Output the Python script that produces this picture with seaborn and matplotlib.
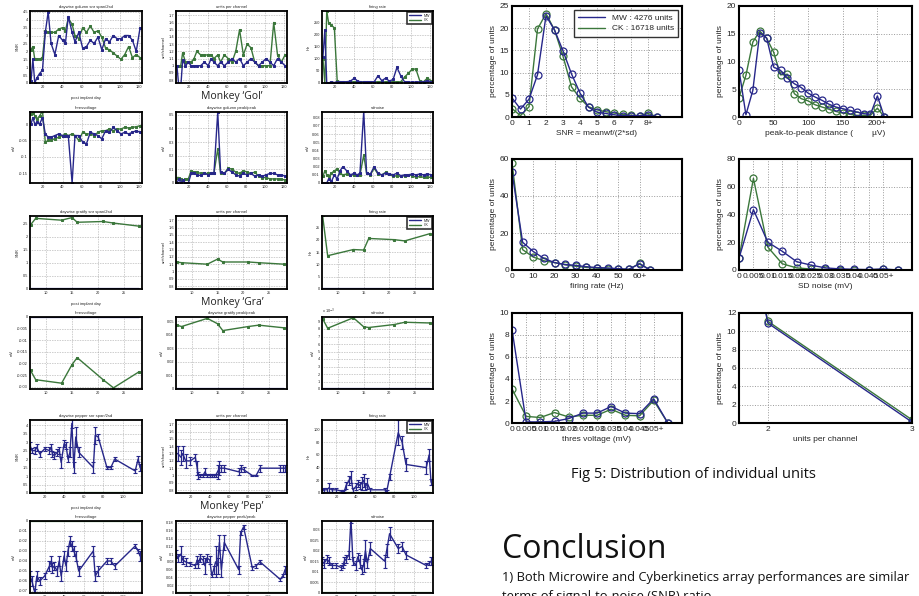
import numpy as np
import pandas as pd
import matplotlib
matplotlib.use("Agg")
import matplotlib.pyplot as plt
import seaborn as sns
from matplotlib.lines import Line2D
from matplotlib.ticker import FuncFormatter

# ---------------- data: distributions (right) ----------------
snr_x = [0, 0.5, 1, 1.5, 2, 2.5, 3, 3.5, 4, 4.5, 5, 5.5, 6, 6.5, 7, 7.5, 8, 8.5]
snr_mw = [4.3, 1.8, 4.0, 9.5, 22.8, 19.6, 14.9, 9.7, 5.4, 2.2, 1.1, 0.8, 0.5, 0.3, 0.3, 0.3, 0.4, 0.1]
snr_ck = [1.9, 0.3, 2.3, 19.8, 23.3, 19.6, 13.7, 6.8, 4.2, 2.3, 1.6, 1.2, 0.9, 0.6, 0.4, 0.3, 0.8, 0.1]
snr_ticks = ["0", "1", "2", "3", "4", "5", "6", "7", "8+"]

p2p_x = [0, 10, 20, 30, 40, 50, 60, 70, 80, 90, 100, 110, 120, 130, 140, 150, 160, 170, 180, 190, 200, 210]
p2p_mw = [8.5, 0.4, 4.8, 15.2, 14.2, 9.0, 8.4, 7.0, 6.0, 5.3, 4.3, 3.6, 3.0, 2.3, 1.8, 1.5, 1.2, 0.9, 0.6, 0.5, 3.8, 0.0]
p2p_ck = [3.5, 7.5, 13.5, 15.5, 14.2, 11.7, 7.6, 7.7, 4.2, 3.3, 2.9, 2.2, 1.8, 1.4, 1.0, 0.7, 0.5, 0.3, 0.3, 0.3, 1.6, 0.0]
p2p_ticks = ["0", "50", "100", "150", "200+"]

fr_x = [0, 5, 10, 15, 20, 25, 30, 35, 40, 45, 50, 55, 60, 65]
fr_mw = [53, 15, 10, 6.3, 4, 3, 2.5, 1.8, 1.3, 1.1, 0.7, 0.4, 3.3, 0]
fr_ck = [58, 11, 7, 5, 4, 2.8, 2, 1.4, 1, 0.7, 0.5, 0.3, 3.6, 0]
fr_ticks = ["0", "10", "20", "30", "40", "50", "60+"]

sd_x = [0, 0.005, 0.01, 0.015, 0.02, 0.025, 0.03, 0.035, 0.04, 0.045, 0.05, 0.055]
sd_mw = [8.5, 43.5, 20, 13.5, 6, 3.5, 1.5, 0.8, 0.5, 0.3, 0.8, 0]
sd_ck = [8.5, 66, 16.5, 4.5, 1.5, 0.7, 0.4, 0.3, 0.2, 0.2, 0.4, 0]
mv_ticks = ["0", "0.005", "0.01", "0.015", "0.02", "0.025", "0.03", "0.035", "0.04", "0.045", "0.05+"]

th_x = [0, 0.005, 0.01, 0.015, 0.02, 0.025, 0.03, 0.035, 0.04, 0.045, 0.05, 0.055]
th_mw = [8.5, 0.1, 0.1, 0.15, 0.4, 0.9, 0.9, 1.5, 0.9, 0.85, 2.2, 0]
th_ck = [3.1, 0.6, 0.5, 0.95, 0.55, 0.7, 0.7, 1.25, 0.7, 0.65, 2.05, 0]

upc_x = [1, 2, 3]
upc_mw = [89.0, 10.9, 0.1]
upc_ck = [88.5, 11.1, 0.35]

legend_labels = ["MW : 4276 units", "CK : 16718 units"]

# ---------------- data: monkey 'Gol' ----------------
gol_days = [7, 9, 11, 13, 16, 19, 22, 25, 28, 32, 36, 40, 43, 46, 50, 53, 57, 61, 65, 69, 73, 77, 81, 85, 89, 93, 97, 101, 105, 109, 113, 117, 121]
gol_snr_mw = [0.1, 1.5, 0.0, 0.3, 0.6, 0.8, 3.2, 4.5, 2.5, 1.8, 3.0, 2.7, 2.5, 4.2, 3.2, 2.6, 3.2, 2.2, 2.3, 2.7, 2.5, 2.9, 2.1, 2.8, 2.6, 3.0, 2.8, 2.8, 3.0, 3.0, 2.7, 2.0, 3.5]
gol_snr_ck = [2.1, 2.3, 1.5, 1.5, 1.5, 1.6, 3.3, 3.2, 3.2, 3.2, 3.4, 3.5, 3.3, 4.1, 3.7, 3.0, 2.8, 3.5, 3.2, 3.6, 3.2, 3.3, 2.9, 2.2, 2.1, 1.9, 1.7, 1.5, 1.8, 2.3, 1.6, 1.8, 1.6]
gol_upc_mw = [1.0, 0.7, 0.7, 1.08, 1.0, 1.05, 1.0, 1.0, 1.0, 1.0, 1.05, 1.0, 1.1, 1.05, 1.0, 1.05, 1.0, 1.05, 1.1, 1.05, 1.1, 1.0, 1.05, 1.1, 1.05, 1.0, 1.05, 1.1, 1.05, 1.0, 1.1, 1.05, 1.0]
gol_upc_ck = [1.0, 1.0, 1.0, 1.18, 1.05, 1.05, 1.05, 1.1, 1.2, 1.15, 1.15, 1.15, 1.15, 1.1, 1.15, 1.05, 1.15, 1.1, 1.05, 1.2, 1.5, 1.15, 1.3, 1.25, 1.05, 1.0, 1.0, 1.0, 1.0, 1.6, 1.15, 1.05, 1.15]
gol_fr_mw = [110, 220, 0, 0, 5, 2, 5, 3, 5, 5, 8, 20, 10, 5, 3, 5, 5, 5, 30, 10, 20, 8, 15, 65, 30, 5, 5, 3, 5, 5, 5, 10, 5]
gol_fr_ck = [100, 0, 300, 250, 240, 230, 10, 5, 5, 5, 5, 5, 5, 5, 5, 5, 5, 5, 5, 5, 5, 5, 5, 5, 5, 25, 40, 58, 58, 10, 5, 20, 10]
gol_th_mw = [0.0, 0.02, 0.0, 0.005, 0.0, 0.02, -0.03, -0.04, -0.04, -0.035, -0.03, -0.035, -0.035, -0.035, -0.18, -0.035, -0.035, -0.055, -0.06, -0.025, -0.03, -0.035, -0.045, -0.02, -0.025, -0.01, -0.02, -0.03, -0.025, -0.03, -0.025, -0.02, -0.025]
gol_th_ck = [0.03, 0.035, 0.025, 0.015, 0.025, 0.04, -0.055, -0.05, -0.048, -0.045, -0.04, -0.035, -0.03, -0.035, -0.03, -0.035, -0.05, -0.025, -0.03, -0.03, -0.035, -0.025, -0.02, -0.02, -0.015, -0.02, -0.015, -0.015, -0.01, -0.012, -0.01, -0.008, -0.005]
gol_pp_mw = [0.0, 0.03, 0.0, 0.02, 0.0, 0.0, 0.07, 0.07, 0.06, 0.055, 0.07, 0.06, 0.07, 0.07, 0.52, 0.08, 0.07, 0.1, 0.08, 0.06, 0.05, 0.07, 0.06, 0.07, 0.05, 0.06, 0.05, 0.06, 0.07, 0.07, 0.06, 0.06, 0.05]
gol_pp_ck = [0.04, 0.04, 0.03, 0.02, 0.03, 0.03, 0.09, 0.08, 0.08, 0.07, 0.07, 0.07, 0.07, 0.07, 0.25, 0.07, 0.07, 0.11, 0.1, 0.08, 0.07, 0.09, 0.08, 0.07, 0.08, 0.05, 0.04, 0.04, 0.03, 0.03, 0.03, 0.03, 0.02]
gol_sd_mw = [0.0, 0.0, 0.0, 0.005, 0.002, 0.01, 0.005, 0.015, 0.02, 0.015, 0.01, 0.012, 0.01, 0.012, 0.088, 0.012, 0.011, 0.02, 0.012, 0.01, 0.012, 0.011, 0.01, 0.012, 0.009, 0.01, 0.01, 0.011, 0.01, 0.011, 0.01, 0.011, 0.01]
gol_sd_ck = [0.008, 0.015, 0.01, 0.008, 0.012, 0.015, 0.017, 0.012, 0.01, 0.011, 0.01, 0.01, 0.01, 0.01, 0.034, 0.012, 0.01, 0.018, 0.011, 0.01, 0.013, 0.011, 0.008, 0.009, 0.008, 0.009, 0.01, 0.009, 0.007, 0.008, 0.007, 0.007, 0.007]

# ---------------- data: monkey 'Gra' (CK only; MW flat at zero) ----------------
gra_days = [7, 8, 13, 15, 16, 21, 23, 28]
gra_snr_ck = [2.45, 2.7, 2.63, 2.73, 2.55, 2.58, 2.52, 2.4]
gra_upc_ck = [1.13, 1.12, 1.1, 1.17, 1.13, 1.13, 1.12, 1.1]
gra_fr_ck = [30, 13.5, 16, 15.8, 20.5, 20, 19.5, 22.5]
gra_th_ck = [-0.023, -0.027, -0.0285, -0.0205, -0.0175, -0.027, -0.0305, -0.0235]
gra_pp_ck = [0.047, 0.046, 0.052, 0.048, 0.043, 0.046, 0.047, 0.045]
gra_sd_ck = [0.0094, 0.0081, 0.0095, 0.0083, 0.0082, 0.0086, 0.0089, 0.0088]
gra_mw_days = [7, 28]
gra_mw_zero = [0.0, 0.0]

# ---------------- data: monkey 'Pep' (MW only; CK flat at zero) ----------------
pep_days = [5, 7, 10, 12, 15, 20, 25, 27, 28, 30, 33, 35, 37, 40, 42, 44, 46, 48, 50, 52, 55, 70, 72, 75, 84, 88, 92, 113, 116, 118]
pep_snr = [2.8, 2.5, 2.5, 2.7, 2.3, 2.6, 2.5, 2.7, 2.3, 2.2, 2.4, 2.5, 1.8, 2.9, 2.8, 2.0, 2.4, 4.1, 1.5, 3.3, 2.4, 1.5, 3.4, 3.3, 1.5, 1.5, 2.0, 1.3, 2.0, 1.5]
pep_snr_err = [0.2, 0.15, 0.2, 0.2, 0.2, 0.1, 0.2, 0.2, 0.2, 0.2, 0.2, 0.2, 0.3, 0.2, 0.2, 0.2, 0.3, 0.3, 0.3, 0.6, 0.3, 0.3, 0.5, 0.2, 0.1, 0.1, 0.1, 0.1, 0.2, 0.2]
pep_upc = [1.3, 1.3, 1.25, 1.3, 1.2, 1.2, 1.25, 1.1, 1.0, 1.0, 1.0, 1.05, 1.0, 1.0, 1.0, 1.0, 1.0, 1.05, 1.1, 1.1, 1.1, 1.05, 1.1, 1.08, 1.0, 1.0, 1.1, 1.1, 1.1, 1.1]
pep_upc_err = [0.1, 0.1, 0.1, 0.1, 0.1, 0.05, 0.05, 0.1, 0.05, 0.02, 0.02, 0.05, 0.02, 0.02, 0.02, 0.02, 0.02, 0.1, 0.1, 0.05, 0.05, 0.05, 0.05, 0.03, 0.01, 0.01, 0.05, 0.05, 0.05, 0.05]
pep_fr = [3, 5, 5, 8, 5, 5, 3, 2, 2, 12, 20, 25, 5, 10, 15, 12, 15, 20, 10, 15, 5, 5, 2, 25, 95, 80, 45, 40, 60, 17]
pep_fr_err = [3, 3, 3, 7, 3, 3, 2, 2, 2, 5, 7, 10, 3, 5, 5, 5, 10, 10, 5, 8, 3, 3, 2, 5, 20, 10, 10, 10, 10, 5]
pep_th = [-0.055, -0.06, -0.072, -0.055, -0.06, -0.055, -0.045, -0.04, -0.047, -0.045, -0.05, -0.04, -0.055, -0.035, -0.045, -0.03, -0.02, -0.025, -0.03, -0.035, -0.05, -0.03, -0.055, -0.05, -0.04, -0.04, -0.045, -0.025, -0.03, -0.035]
pep_th_err = [0.005, 0.005, 0.004, 0.005, 0.004, 0.003, 0.005, 0.005, 0.005, 0.004, 0.005, 0.005, 0.005, 0.005, 0.005, 0.005, 0.005, 0.005, 0.005, 0.005, 0.005, 0.005, 0.005, 0.005, 0.003, 0.003, 0.003, 0.002, 0.002, 0.005]
pep_pp = [0.1, 0.09, 0.1, 0.085, 0.08, 0.075, 0.07, 0.085, 0.075, 0.09, 0.085, 0.07, 0.09, 0.085, 0.045, 0.06, 0.08, 0.07, 0.13, 0.06, 0.13, 0.06, 0.155, 0.17, 0.065, 0.07, 0.08, 0.035, 0.045, 0.06]
pep_pp_err = [0.01, 0.01, 0.02, 0.01, 0.01, 0.005, 0.005, 0.01, 0.01, 0.01, 0.01, 0.02, 0.01, 0.01, 0.005, 0.01, 0.04, 0.02, 0.02, 0.02, 0.02, 0.01, 0.005, 0.005, 0.005, 0.005, 0.005, 0.003, 0.005, 0.01]
pep_sd = [0.015, 0.014, 0.016, 0.015, 0.013, 0.013, 0.012, 0.013, 0.015, 0.016, 0.018, 0.035, 0.015, 0.013, 0.017, 0.015, 0.011, 0.013, 0.02, 0.014, 0.021, 0.015, 0.02, 0.028, 0.021, 0.022, 0.018, 0.013, 0.014, 0.015]
pep_sd_err = [0.002, 0.002, 0.002, 0.002, 0.001, 0.001, 0.001, 0.001, 0.002, 0.002, 0.002, 0.002, 0.002, 0.002, 0.002, 0.003, 0.002, 0.003, 0.005, 0.002, 0.003, 0.003, 0.003, 0.003, 0.002, 0.002, 0.002, 0.001, 0.001, 0.002]
pep_ck_days = [5, 118]
pep_ck_zero = [0.0, 0.0]

# ---------------- style ----------------
sns.set_style("white")
plt.rcParams["font.family"] = ["Liberation Sans", "DejaVu Sans"]
BLUE = "#27278a"
GREEN = "#3b773b"
W, H = 920, 596

fig = plt.figure(figsize=(W / 100, H / 100), dpi=100)


def add_ax(x0, x1, y0, y1):
    return fig.add_axes([x0 / W, 1 - y1 / H, (x1 - x0) / W, (y1 - y0) / H])


num_fmt = FuncFormatter(lambda v, p: f"{round(v, 6) + 0.0:g}")


def style_small(ax, xlim, ylim, yticks, title, ylabel):
    ax.set_xlim(*xlim)
    ax.set_ylim(*ylim)
    ax.set_yticks(yticks)
    ax.tick_params(axis="both", labelsize=2.8, direction="in", length=1.5, width=0.4, pad=1.5)
    ax.grid(True, linestyle=":", color="#888888", linewidth=0.45)
    for s in ax.spines.values():
        s.set_linewidth(1.3)
        s.set_color("black")
    ax.set_title(title, fontsize=3, pad=2)
    ax.set_ylabel(ylabel, fontsize=3, labelpad=2)
    ax.set_xlabel("")


def line(ax, x, y, color, marker="s", ms=1.6, lw=1.0):
    sns.lineplot(x=x, y=y, ax=ax, color=color, marker=marker, markersize=ms,
                 markeredgecolor=color, linewidth=lw, sort=False, legend=False)


def small_legend(ax):
    h = [Line2D([0], [0], color=BLUE, lw=1), Line2D([0], [0], color=GREEN, lw=1)]
    lg = ax.legend(h, ["MW", "CK"], loc="upper right", fontsize=2.6, frameon=True,
                   handlelength=3.5, borderpad=0.4, labelspacing=0.2, borderaxespad=0.3)
    lg.get_frame().set_edgecolor("black")
    lg.get_frame().set_linewidth(1.2)
    lg.get_frame().set_boxstyle("square", pad=0)


cols = [(30, 142), (176, 287), (322, 433)]

# ---- Gol ----
r1, r2 = (11, 83), (112, 183)
gx = (6, 123)
gxt = [20, 40, 60, 80, 100, 120]
panels = [
    (cols[0], r1, gol_snr_mw, gol_snr_ck, (0, 4.55), [0, 0.5, 1, 1.5, 2, 2.5, 3, 3.5, 4, 4.5], "daywise golumn snr span/2sd", "SNR"),
    (cols[1], r1, gol_upc_mw, gol_upc_ck, (0.76, 1.76), [0.8, 0.9, 1.0, 1.1, 1.2, 1.3, 1.4, 1.5, 1.6, 1.7], "units per channel", "unit/channel"),
    (cols[2], r1, gol_fr_mw, gol_fr_ck, (0, 300), [0, 50, 100, 150, 200, 250], "firing rate", "Hz"),
    (cols[0], r2, gol_th_mw, gol_th_ck, (-0.18, 0.037), [-0.15, -0.1, -0.05, 0], "thresvoltage", "mV"),
    (cols[1], r2, gol_pp_mw, gol_pp_ck, (0, 0.52), [0, 0.1, 0.2, 0.3, 0.4, 0.5], "daywise golumn peak/peak", "mV"),
    (cols[2], r2, gol_sd_mw, gol_sd_ck, (0, 0.087), [0, 0.01, 0.02, 0.03, 0.04, 0.05, 0.06, 0.07, 0.08], "sdnoise", "mV"),
]
for i, (c, r, mw, ck, yl, yt, t, yl_lab) in enumerate(panels):
    ax = add_ax(c[0], c[1], r[0], r[1])
    line(ax, gol_days, ck, GREEN)
    line(ax, gol_days, mw, BLUE)
    style_small(ax, gx, yl, yt, t, yl_lab)
    ax.set_xticks(gxt)
    ax.yaxis.set_major_formatter(num_fmt)
    if i == 2:
        small_legend(ax)
    if i == 0:
        ax.set_xlabel("post implant day", fontsize=3, labelpad=5)

# ---- Gra ----
r1, r2 = (216, 289), (317, 389)
grx = (6.9, 28.5)
grxt = [10, 15, 20, 25]
panels = [
    (cols[0], r1, gra_snr_ck, (0, 2.79), [0, 0.5, 1, 1.5, 2, 2.5], "daywise gratify snr span/2sd", "SNR"),
    (cols[1], r1, gra_upc_ck, (0.76, 1.76), [0.8, 0.9, 1.0, 1.1, 1.2, 1.3, 1.4, 1.5, 1.6, 1.7], "units per channel", "unit/channel"),
    (cols[2], r1, gra_fr_ck, (0, 29.6), [0, 5, 10, 15, 20, 25], "firing rate", "Hz"),
    (cols[0], r2, gra_th_ck, (-0.031, 0), [-0.03, -0.025, -0.02, -0.015, -0.01, -0.005, 0], "thresvoltage", "mV"),
    (cols[1], r2, gra_pp_ck, (0, 0.053), [0, 0.01, 0.02, 0.03, 0.04, 0.05], "daywise gratify peak/peak", "mV"),
    (cols[2], r2, gra_sd_ck, (0, 0.0096), [0, 0.001, 0.002, 0.003, 0.004, 0.005, 0.006, 0.007, 0.008, 0.009], "sdnoise", "mV"),
]
for i, (c, r, ck, yl, yt, t, yl_lab) in enumerate(panels):
    ax = add_ax(c[0], c[1], r[0], r[1])
    line(ax, gra_mw_days, gra_mw_zero, BLUE, marker=None, lw=1.6)
    line(ax, gra_days, ck, GREEN)
    style_small(ax, grx, yl, yt, t, yl_lab)
    ax.set_xticks(grxt)
    if i == 5:
        ax.yaxis.set_major_formatter(FuncFormatter(lambda v, p: f"{v * 1000:.0f}"))
        ax.text(0.0, 1.02, "x 10$^{-3}$", transform=ax.transAxes, fontsize=2.8, va="bottom")
    else:
        ax.yaxis.set_major_formatter(num_fmt)
    if i == 2:
        small_legend(ax)
    if i == 0:
        ax.set_xlabel("post implant day", fontsize=3, labelpad=5)

# ---- Pep ----
r1, r2 = (420, 493), (521, 593)
px = (5, 120)
pxt = [20, 40, 60, 80, 100]
panels = [
    (cols[0], r1, pep_snr, pep_snr_err, (0, 4.3), [0, 0.5, 1, 1.5, 2, 2.5, 3, 3.5, 4], "daywise pepper snr span/2sd", "SNR"),
    (cols[1], r1, pep_upc, pep_upc_err, (0.76, 1.76), [0.8, 0.9, 1.0, 1.1, 1.2, 1.3, 1.4, 1.5, 1.6, 1.7], "units per channel", "unit/channel"),
    (cols[2], r1, pep_fr, pep_fr_err, (0, 115), [0, 20, 40, 60, 80, 100], "firing rate", "Hz"),
    (cols[0], r2, pep_th, pep_th_err, (-0.072, 0), [-0.07, -0.06, -0.05, -0.04, -0.03, -0.02, -0.01, 0], "thresvoltage", "mV"),
    (cols[1], r2, pep_pp, pep_pp_err, (0, 0.185), [0, 0.02, 0.04, 0.06, 0.08, 0.1, 0.12, 0.14, 0.16, 0.18], "daywise pepper peak/peak", "mV"),
    (cols[2], r2, pep_sd, pep_sd_err, (0, 0.034), [0, 0.005, 0.01, 0.015, 0.02, 0.025, 0.03], "sdnoise", "mV"),
]
for i, (c, r, mw, err, yl, yt, t, yl_lab) in enumerate(panels):
    ax = add_ax(c[0], c[1], r[0], r[1])
    line(ax, pep_ck_days, pep_ck_zero, GREEN, marker=None, lw=1.6)
    ax.errorbar(pep_days, mw, yerr=err, fmt="none", ecolor=BLUE, elinewidth=0.9, capsize=1.3, capthick=0.8)
    line(ax, pep_days, mw, BLUE, marker=None, lw=1.0)
    style_small(ax, px, yl, yt, t, yl_lab)
    ax.set_xticks(pxt)
    ax.yaxis.set_major_formatter(num_fmt)
    if i == 2:
        small_legend(ax)
    if i == 0:
        ax.set_xlabel("post implant day", fontsize=3, labelpad=5)

# monkey titles
for name, y in [("Gol", 96), ("Gra", 302), ("Pep", 506)]:
    fig.text(232 / W, 1 - y / H, f"Monkey \u2018{name}\u2019", ha="center", va="center",
             fontsize=7.5, family=["Open Sans", "DejaVu Sans"], color="#222222")

# ---------------- right: distributions ----------------
rc = [(512, 682), (739, 912)]
rr = [(6, 117), (159, 270), (313, 423)]


def style_big(ax, xlim, ylim, xticks, xticklabels, yticks, xlabel):
    ax.set_xlim(*xlim)
    ax.set_ylim(*ylim)
    ax.set_xticks(xticks)
    ax.set_xticklabels(xticklabels)
    ax.set_yticks(yticks)
    ax.yaxis.set_major_formatter(num_fmt)
    ax.tick_params(axis="both", labelsize=6, direction="in", length=2.5, width=0.6, pad=2)
    ax.grid(True, linestyle=":", color="#999999", linewidth=0.7)
    for s in ax.spines.values():
        s.set_linewidth(1.5)
        s.set_color("black")
    ax.set_xlabel(xlabel, fontsize=6, labelpad=2)
    ax.set_ylabel("percentage of units", fontsize=6, labelpad=2)


def dist_line(ax, x, y, color):
    sns.lineplot(x=x, y=y, ax=ax, color=color, marker="o", markersize=5,
                 markerfacecolor="none", markeredgecolor=color, markeredgewidth=0.9,
                 linewidth=1.0, sort=False, legend=False)


mv_tick_pos = [0, 0.005, 0.01, 0.015, 0.02, 0.025, 0.03, 0.035, 0.04, 0.045, 0.05]
big = [
    (rc[0], rr[0], snr_x, snr_mw, snr_ck, (0, 10), (0, 25), list(range(0, 9)), snr_ticks, [0, 5, 10, 15, 20, 25], "SNR = meanwf/(2*sd)"),
    (rc[1], rr[0], p2p_x, p2p_mw, p2p_ck, (0, 250), (0, 20), [0, 50, 100, 150, 200], p2p_ticks, [0, 5, 10, 15, 20], "peak-to-peak distance (        \u00b5V)"),
    (rc[0], rr[1], fr_x, fr_mw, fr_ck, (0, 80), (0, 60), [0, 10, 20, 30, 40, 50, 60], fr_ticks, [0, 20, 40, 60], "firing rate (Hz)"),
    (rc[1], rr[1], sd_x, sd_mw, sd_ck, (0, 0.06), (0, 80), mv_tick_pos, mv_ticks, [0, 20, 40, 60, 80], "SD noise (mV)"),
    (rc[0], rr[2], th_x, th_mw, th_ck, (0, 0.06), (0, 10), mv_tick_pos, mv_ticks, [0, 2, 4, 6, 8, 10], "thres voltage (mV)"),
    (rc[1], rr[2], upc_x, upc_mw, upc_ck, (1.8, 3.0), (0, 12), [2, 3], ["2", "3"], [0, 2, 4, 6, 8, 10, 12], "units per channel"),
]
for i, (c, r, x, mw, ck, xl, yl, xt, xtl, yt, xlab) in enumerate(big):
    ax = add_ax(c[0], c[1], r[0], r[1])
    dist_line(ax, x, ck, GREEN)
    dist_line(ax, x, mw, BLUE)
    style_big(ax, xl, yl, xt, xtl, yt, xlab)
    if i == 0:
        h = [Line2D([0], [0], color=BLUE, lw=1), Line2D([0], [0], color=GREEN, lw=1)]
        lg = ax.legend(h, legend_labels, loc="upper right", fontsize=6, frameon=True,
                       handlelength=3.2, borderpad=0.5, labelspacing=0.3, borderaxespad=0.5)
        lg.get_frame().set_edgecolor("black")
        lg.get_frame().set_linewidth(1.0)
        lg.get_frame().set_boxstyle("square", pad=0)

# caption & conclusion text
fig.text(693 / W, 1 - 475 / H, "Fig 5: Distribution of individual units", ha="center", va="center",
         fontsize=10.5, family=["Open Sans", "DejaVu Sans"], color="#111111")
fig.text(502 / W, 1 - 550 / H, "Conclusion", ha="left", va="center",
         fontsize=23, family=["Open Sans", "DejaVu Sans"], color="#111111")
fig.text(502 / W, 1 - 577 / H, "1) Both Microwire and Cyberkinetics array performances are similar",
         ha="left", va="center", fontsize=9.3, family=["Open Sans", "DejaVu Sans"], color="#111111")
fig.text(502 / W, 1 - 590 / H, "terms of signal-to-noise (SNR) ratio",
         ha="left", va="top", fontsize=9.3, family=["Open Sans", "DejaVu Sans"], color="#111111")

fig.savefig("out.png", dpi=100, facecolor="white")
